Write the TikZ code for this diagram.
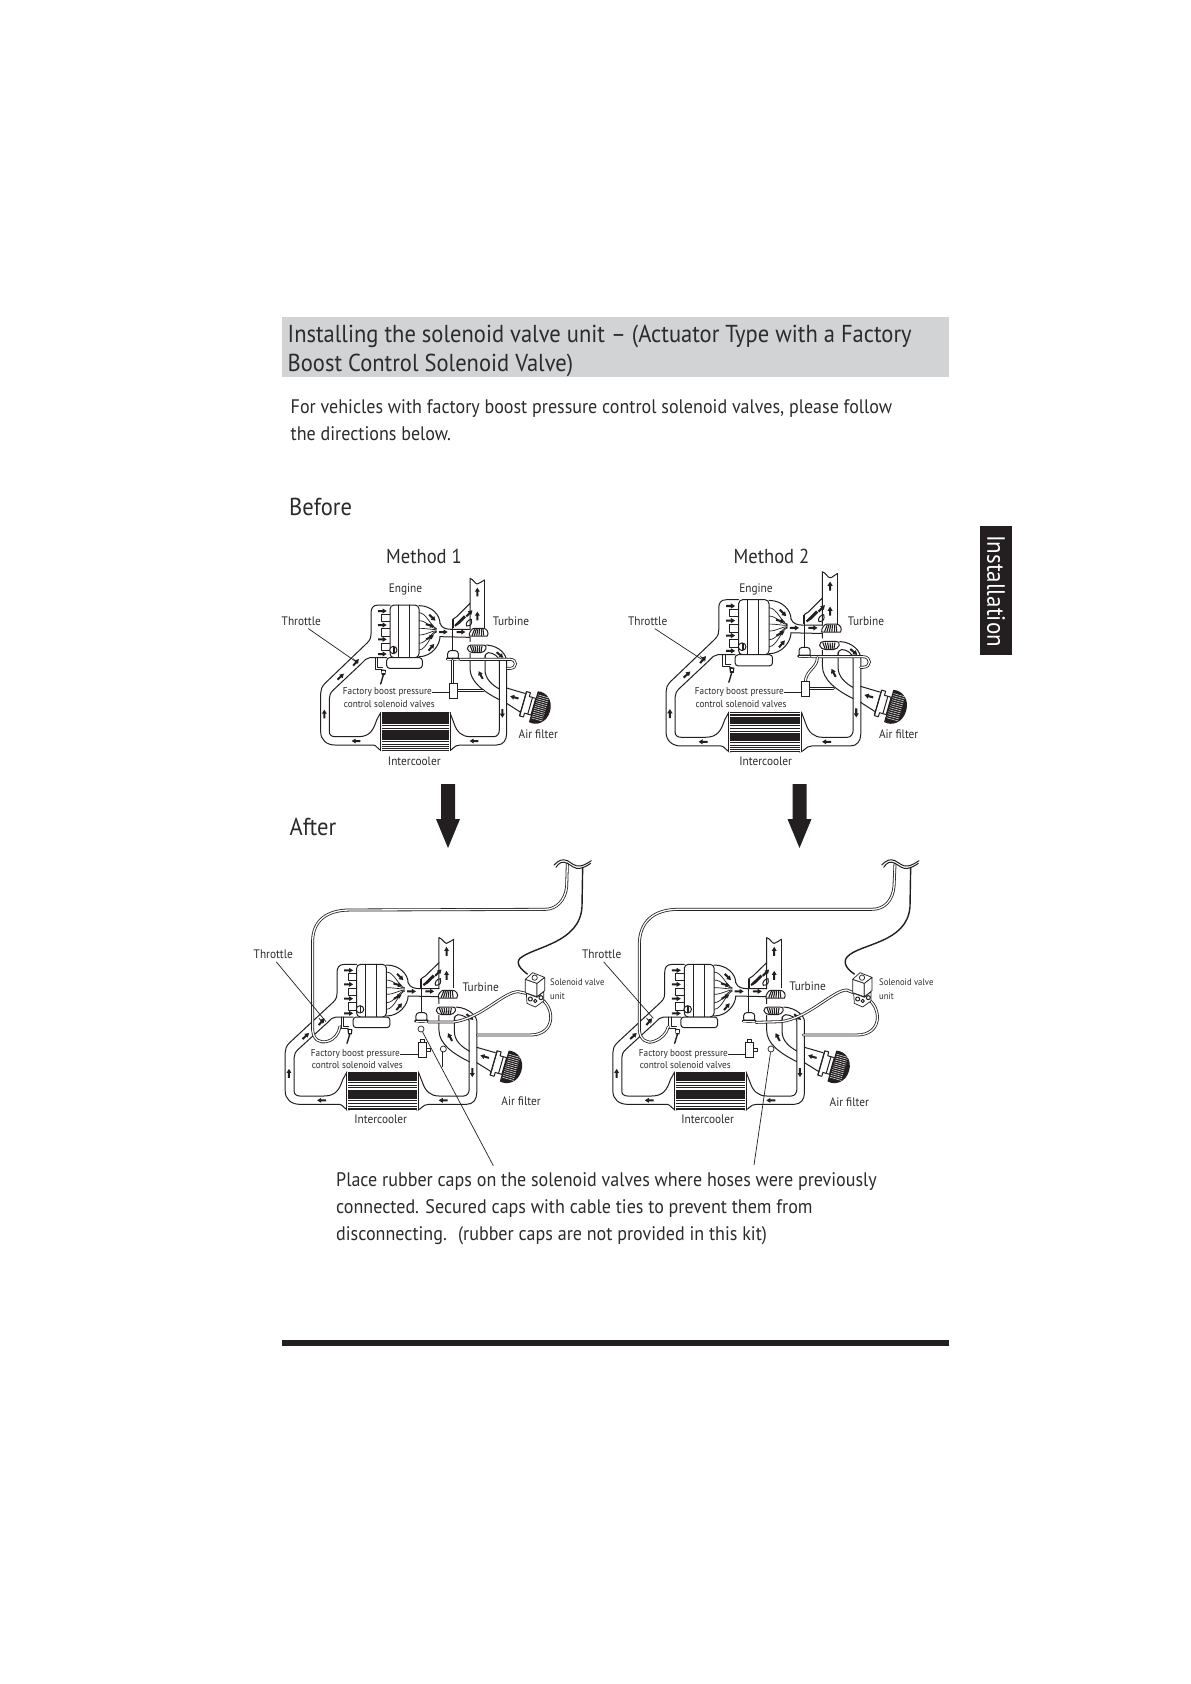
\documentclass[tikz,border=0pt]{standalone}
\usepackage{fontspec}
\setmainfont[FakeStretch=0.92]{PT Sans}
\definecolor{ink}{HTML}{231F20}
\definecolor{txt}{HTML}{2B2B2B}
\definecolor{band}{HTML}{D2D3D4}
\tikzset{
  pipe/.style={draw=ink,line width=1pt,line cap=round,line join=round},
  thin line/.style={draw=ink,line width=0.7pt},
  tube/.style={draw=ink,double=white,double distance=1.3pt,line width=0.8pt,line cap=round},
  hardwire/.style={draw=ink,line width=1.4pt,line cap=round},
  lbl/.style={inner sep=0pt,text=txt,font=\fontsize{12.3}{14}\selectfont},
  small/.style={inner sep=0pt,text=txt,font=\fontsize{10}{12}\selectfont},
  tiny/.style={inner sep=0pt,text=txt,font=\fontsize{9.4}{11}\selectfont},
  bodytext/.style={inner sep=0pt,anchor=base west,text=txt,font=\fontsize{19.6}{24}\selectfont},
  heading/.style={inner sep=0pt,anchor=base west,text=txt,font=\fontsize{24.5}{29}\selectfont},
  methodtext/.style={inner sep=0pt,text=txt,font=\fontsize{20.2}{24}\selectfont},
  capring/.style={circle,draw=ink,line width=0.7pt,fill=white,minimum size=6pt,inner sep=0pt},
  svbox/.style={draw=ink,line width=1pt,fill=white,minimum width=8pt,minimum height=15pt,inner sep=0pt},
  zf/.style 2 args={shift={(#1pt,-#2pt)},x=0.33333pt,y=-0.33333pt},
  base/.style n args={4}{shift={(#1pt,-#2pt)},x=#3*0.33333pt,y=-#4*0.33333pt},
}
\newcommand{\flow}[3]{\fill[ink,shift={(#1,#2)},rotate=#3] (-13,-3)--(1,-3)--(1,-7.5)--(13,0)--(1,7.5)--(1,3)--(-13,3)--cycle;}
% base diagram, local coordinates; #1 = vertical offset of the turbine group
\newcommand{\basediag}[1]{%
  % compressor pipe
  \draw[pipe] (600,280+#1) -- (600,325+#1) .. controls (600,365+#1) and (640,395+#1) .. (690,420+#1);
  \draw[pipe] (645,285+#1) -- (645,330+#1) .. controls (645,355+#1) and (665,375+#1) .. (690,388+#1);
  \draw[pipe] (710,430) -- (752,457);
  \draw[pipe] (710,384) -- (764,400);
  \flow{632}{345+#1}{118}
  \flow{733}{412}{164}
  % right duct
  \fill[white] (689,300) rectangle (709,520);
  \draw[pipe] (534,572) .. controls (550,572) and (550,555) .. (570,555) -- (680,555) .. controls (700,555) and (710,540) .. (710,520) -- (710,305) .. controls (710,285+#1) and (690,258+#1) .. (650,255+#1);
  \draw[pipe] (540,458) -- (552,490) .. controls (560,515) and (575,530) .. (600,530) -- (672,530) .. controls (682,530) and (688,520) .. (688,510) -- (688,305) .. controls (688,290+#1) and (670,278+#1) .. (655,278+#1) .. controls (648,278+#1) and (645,285+#1) .. (645,295+#1);
  \flow{697}{460}{-90}
  \flow{612}{543}{180}
  \flow{690}{285+#1}{-40}
  % left duct
  \draw[pipe] (360,135) -- (325,135) .. controls (308,135) and (303,145) .. (303,160) -- (303,222) .. controls (303,240) and (295,245) .. (285,255) -- (165,370) .. controls (155,380) and (152,390) .. (152,400) -- (152,515) .. controls (152,540) and (170,555) .. (195,555) -- (310,555) .. controls (320,555) and (325,572) .. (338,572);
  \draw[pipe] (350,293) -- (300,293) .. controls (290,293) and (285,300) .. (275,310) -- (190,390) .. controls (182,398) and (178,405) .. (178,415) -- (178,515) .. controls (178,525) and (185,530) .. (195,530) -- (265,530) .. controls (300,530) and (310,510) .. (320,480) -- (332,458);
  \flow{163}{462}{90}
  \flow{258}{543}{180}
  \flow{212}{350}{43}
  \draw[thin line] (250,296) -- (262,312);
  \flow{258}{307}{50}
  % sensor under throttle
  \draw[pipe] (315,293) -- (315,328) -- (335,328);
  \draw[pipe] (322,293) -- (322,322) -- (337,322);
  \fill[ink] (333,328) -- (348,330) -- (346,345) -- (335,345) -- cycle;
  \fill[white] (337,333) rectangle (344,340);
  \draw[hardwire] (340,345) -- (332,372);
  % intercooler
  \fill[white] (332,458) rectangle (540,572);
  \foreach \yy/\ww in {459/1.4,466/2.4,474/2.4,482/2.4,489/1.6,497/0.7,505/0.7,513/1.6,520/2.4,528/2.4,536/2.4,544/1.2,552/0.7,560/0.7,566/0.7,571.5/1.3}
    \draw[ink,line width=\ww pt] (335,\yy) -- (537,\yy);
  \draw[pipe] (332,458) -- (332,572);
  \draw[pipe] (540,458) -- (540,572);
  % intake manifold
  \draw[pipe] (360,162) -- (335,162) -- (335,183) -- (360,183);
  \draw[pipe] (360,206) -- (335,206) -- (335,228) -- (360,228);
  \draw[pipe] (360,250) -- (335,250) -- (335,272) -- (360,272);
  \flow{337}{153}{0}
  \flow{337}{195}{0}
  \flow{337}{238}{0}
  \flow{337}{282}{0}
  % engine
  \draw[pipe,fill=white,rounded corners=4pt] (360,135) rectangle (447,293);
  \draw[pipe] (386,135) -- (386,293);
  \draw[pipe] (418,135) -- (418,293);
  \draw[pipe,fill=white,rounded corners=3pt] (350,293) rectangle (457,325);
  \draw[pipe,fill=white] (370,270) circle (11);
  \fill[ink] (369,260) rectangle (374,280);
  % exhaust manifold
  \draw[pipe] (447,137) .. controls (485,137) and (510,165) .. (510,190);
  \draw[pipe] (447,290) .. controls (485,290) and (510,255) .. (510,230);
  \foreach \yy/\yb in {158/205,182/207,205/209,225/212,250/214,270/216}
    \draw[thin line] (447,\yy) .. controls (470,\yy) and (485,\yb) .. (500,\yb);
  \flow{487}{173}{-45}
  \flow{480}{196}{-15}
  \flow{480}{232}{28}
  \flow{484}{262}{50}
  % pipe to turbine
  \draw[pipe] (510,190) .. controls (515,205) and (530,208) .. (545,208) -- (600,208);
  \draw[pipe] (510,230) -- (600,232) -- (600,245+#1);
  \flow{520}{216}{0}
  \flow{573}{216}{0}
  % stack
  \draw[pipe] (600,208) -- (600,130) -- (560,170) -- (548,178);
  \draw[pipe] (643,205) -- (643,60);
  \draw[pipe] (600,130) -- (600,55) .. controls (610,57) and (615,72) .. (622,72) .. controls (630,72) and (635,62) .. (643,60);
  \draw[pipe] (590,198) .. controls (585,190) and (595,178) .. (604,178) .. controls (606,190) and (605,198) .. (590,198) -- cycle;
  \flow{622}{96}{90}
  \flow{622}{168}{90}
  \flow{598}{160}{45}
  \fill[ink] (553,195) -- (582,166) -- (588,172) -- (568,192) -- (556,200) -- cycle;
  % turbine / compressor wheels
  \draw[pipe,fill=white] (598,228+#1) .. controls (596,218+#1) and (606,205+#1) .. (612,205+#1) -- (640,205+#1) .. controls (650,205+#1) and (658,218+#1) .. (652,228+#1) -- cycle;
  \foreach \xa/\xb in {606/614,613/619,620/624,627/629,634/634,641/639}
    \draw[ink,line width=1.1pt] (\xa,227+#1) -- (\xb,207+#1);
  \draw[pipe,fill=white] (592,266+#1) .. controls (592,258+#1) and (598,255+#1) .. (604,255+#1) -- (640,255+#1) .. controls (646,255+#1) and (650,258+#1) .. (648,266+#1) .. controls (645,272+#1) and (640,278+#1) .. (632,278+#1) -- (608,278+#1) .. controls (600,278+#1) and (594,272+#1) .. (592,266+#1) -- cycle;
  \foreach \xa/\xb in {601/608,608/613,615/618,622/623,629/628,636/633}
    \draw[ink,line width=1.1pt] (\xa,258+#1) -- (\xb,276+#1);
  % actuator
  \draw[ink,line width=1.8pt] (548,178) -- (548,205);
  \draw[pipe] (548,205) -- (548,272+#1);
  \draw[pipe,fill=white,rounded corners=3pt] (533,272+#1) rectangle (565,300+#1);
  \fill[ink,rounded corners=1pt] (528,293+#1) rectangle (570,301+#1);
  \draw[white,line width=0.5pt] (532,297+#1) -- (566,297+#1);
  % air filter
  \begin{scope}[shift={(790,440)},rotate=-16]
    \draw[pipe,fill=white] (-32,-38) -- (-20,-38) -- (-20,-26) -- (0,-26) -- (0,26) -- (-20,26) -- (-20,38) -- (-32,38) -- cycle;
    \draw[pipe] (-10,-26) -- (-10,26);
    \draw[ink,line width=1.1pt] (-32,-38) -- (-32,38);
    \fill[ink] (0,-48) .. controls (25,-54) and (52,-35) .. (52,0) .. controls (52,35) and (25,54) .. (0,48) -- cycle;
    \foreach \vv in {-38,-32,...,38} \draw[white,line width=0.45pt] (4,\vv) -- (38,\vv);
  \end{scope}
}
\newcommand{\valve}[2]{%
  \begin{scope}[shift={(#1,#2)}]
    \draw[thin line,fill=white,line join=round] (3,45) -- (35,57) -- (55,40) -- (55,68) -- (30,86) -- (5,75) -- cycle;
    \draw[thin line,fill=white,line join=round] (0,3) -- (35,15) -- (35,55) -- (0,43) -- cycle;
    \draw[thin line,fill=white,line join=round] (35,15) -- (58,-3) -- (58,37) -- (35,55) -- cycle;
    \draw[thin line,fill=white,line join=round] (0,3) -- (22,-17) -- (58,-3) -- (35,15) -- cycle;
    \draw[thin line] (28,-2) circle (8);
    \draw[pipe] (15,62) circle (6);
    \draw[pipe] (30,68) circle (5);
    \draw[pipe] (47,58) circle (6);
  \end{scope}
}
\newcommand{\brk}[1]{%
  \begin{scope}[shift={(#1,0)}]
    \draw[pipe] (-40,45) .. controls (-25,30) and (-15,26) .. (0,32) .. controls (12,38) and (22,50) .. (38,48) .. controls (50,46) and (60,40) .. (72,32);
    \draw[pipe] (-34,52) .. controls (-25,38) and (-15,32) .. (0,40) .. controls (12,46) and (22,58) .. (38,55) .. controls (50,53) and (60,47) .. (70,40);
  \end{scope}
}
\begin{document}
\begin{tikzpicture}[x=1pt,y=-1pt]
\useasboundingbox (0,0) rectangle (1191,1684);
\fill[white] (0,0) rectangle (1191,1684);
% heading band
\fill[band] (282,317) rectangle (949,377);
\node[heading] (title1) at (287.5,342.5) {Installing the solenoid valve unit – (Actuator Type with a Factory};
\node[heading] (title2) at (287.5,371.5) {Boost Control Solenoid Valve)};
\node[bodytext] (intro1) at (290.5,413) {For vehicles with factory boost pressure control solenoid valves, please follow};
\node[bodytext] (intro2) at (290.5,440) {the directions below.};
\node[heading] (before) at (289,515.5) {Before};
\node[heading] (after) at (289.5,835) {After};
\node[methodtext] (m1) at (424,556.5) {Method 1};
\node[methodtext] (m2) at (771.5,556.5) {Method 2};
% side tab
\fill[ink] (980,526) rectangle (1012,655);
\node[inner sep=0pt,text=white,rotate=-90,font=\fontsize{25}{28}\selectfont] (tab) at (996,591) {Installation};
% big arrows
\fill[ink] (441,784) -- (455,784) -- (455,819) -- (460,819) -- (448,848) -- (436,819) -- (441,819) -- cycle;
\fill[ink] (792.5,784) -- (806.5,784) -- (806.5,819) -- (811.5,819) -- (799.5,848) -- (787.5,819) -- (792.5,819) -- cycle;
% ---------- Method 1, before
\begin{scope}[base={270}{560}{1}{1}]\basediag{0}\end{scope}
\begin{scope}[zf={270}{560}]
  \draw[tube] (570,298) -- (720,298) .. controls (742,298) and (742,325) .. (720,325) -- (712,325);
  \draw[tube] (548,301) -- (548,370);
  \draw[tube] (562,392) -- (640,392);
  \node[svbox] (sv1) at (550,392) {};
  \coordinate (t1) at (258,305);
\end{scope}
\node[lbl] (eng1) at (405.5,589.5) {Engine};
\node[lbl] (th1) at (301.3,621) {Throttle};
\node[lbl] (tu1) at (511,621) {Turbine};
\node[small,anchor=east] (fa1) at (432,692.5) {Factory boost pressure};
\node[small] (co1) at (389.3,703.8) {control solenoid valves};
\node[lbl] (af1) at (538.3,734) {Air filter};
\node[lbl] (ic1) at (414.3,761) {Intercooler};
\draw[thin line] (fa1.east) -- (sv1.west |- fa1.east);
\draw[thin line] (th1.south) ++(7,3) -- (t1);
% ---------- Method 2, before
\begin{scope}[base={613}{552.67}{1.047}{1.045}]\basediag{0}\end{scope}
\begin{scope}[zf={620}{560}]
  \draw[tube] (575,290) -- (728,290) .. controls (755,290) and (755,322) .. (728,322) -- (722,322);
  \draw[tube] (556,368) .. controls (556,330) and (592,325) .. (592,293);
  \draw[tube] (570,385) -- (640,385);
  \node[svbox] (sv2) at (557,387) {};
  \coordinate (t2) at (245,298);
\end{scope}
\node[lbl] (eng2) at (756,589.5) {Engine};
\node[lbl] (th2) at (647.7,621) {Throttle};
\node[lbl] (tu2) at (866,621) {Turbine};
\node[small,anchor=east] (fa2) at (784,692.5) {Factory boost pressure};
\node[small] (co2) at (741,703.8) {control solenoid valves};
\node[lbl] (af2) at (898.7,734) {Air filter};
\node[lbl] (ic2) at (765.7,761) {Intercooler};
\draw[thin line] (fa2.east) -- (sv2.west |- fa2.east);
\draw[thin line] (th2.south) ++(7,3) -- (t2);
% ---------- Method 1, after
\begin{scope}[base={233}{919.33}{1.03}{1}]\basediag{8}\end{scope}
\begin{scope}[zf={240}{850}]
  \draw[tube] (982,42) -- (980,110) .. controls (976,150) and (950,178) .. (915,178) -- (330,180) .. controls (260,180) and (220,212) .. (218,270) -- (218,540) .. controls (220,570) and (240,580) .. (262,574) .. controls (285,568) and (296,550) .. (300,530);
  \brk{982}
  \draw[hardwire] (1028,52) -- (1026,170) .. controls (1020,280) and (880,290) .. (840,325) .. controls (825,340) and (845,360) .. (862,372);
  \draw[tube] (565,516) -- (640,516) .. controls (725,505) and (790,425) .. (835,425) -- (858,430);
  \draw[tube] (908,450) .. controls (945,480) and (945,555) .. (870,555) -- (712,555);
  \valve{856}{385}
  \node[capring] (cap1) at (543,537) {};
  \draw[pipe,fill=white] (540,590) rectangle (552,567);
  \node[svbox] (sv3) at (547,600) {};
  \draw[pipe,fill=white] (559,596) rectangle (570,604);
  \draw[thin line] (607,600) -- (607,650);
  \node[capring] (cap1b) at (610,597) {};
  \coordinate (t3) at (258,515);
  \coordinate (lead1) at (760,947);
\end{scope}
\node[lbl] (th3) at (273.3,954.3) {Throttle};
\node[lbl] (tu3) at (480.7,987) {Turbine};
\node[tiny,anchor=west] (sa3) at (550,982) {Solenoid valve};
\node[tiny,anchor=west] (sb3) at (550,996) {unit};
\node[small,anchor=east] (fa3) at (400,1054.5) {Factory boost pressure};
\node[small] (co3) at (357.3,1064.8) {control solenoid valves};
\node[lbl] (af3) at (521,1101) {Air filter};
\node[lbl] (ic3) at (380.7,1119) {Intercooler};
\draw[thin line] (fa3.east) -- (sv3.west |- fa3.east);
\draw[thin line] (th3.south) ++(3,3) -- (t3);
\draw[thin line] (cap1) -- (lead1);
% ---------- Method 2, after
\begin{scope}[base={560.67}{919.33}{1.03}{1}]\basediag{8}\end{scope}
\begin{scope}[zf={570}{850}]
  \draw[tube] (975,42) -- (972,110) .. controls (968,150) and (945,178) .. (905,178) -- (320,178) .. controls (250,180) and (210,215) .. (208,280) -- (208,540) .. controls (210,570) and (232,582) .. (252,574) .. controls (275,566) and (290,550) .. (295,530);
  \brk{975}
  \draw[hardwire] (1022,52) -- (1020,170) .. controls (1012,280) and (870,280) .. (832,320) .. controls (815,340) and (835,360) .. (853,372);
  \draw[tube] (558,517) -- (632,515) .. controls (715,505) and (790,420) .. (830,420) -- (850,428);
  \draw[tube] (898,450) .. controls (935,480) and (935,555) .. (860,555) -- (700,555);
  \valve{848}{385}
  \draw[pipe,fill=white] (531,580) rectangle (543,567);
  \node[svbox] (sv4) at (538,600) {};
  \draw[pipe,fill=white] (551,596) rectangle (562,604);
  \node[capring] (cap2) at (603,597) {};
  \coordinate (t4) at (250,505);
  \coordinate (lead2) at (552,945);
\end{scope}
\node[lbl] (th4) at (601.7,954.3) {Throttle};
\node[lbl] (tu4) at (807.7,986) {Turbine};
\node[tiny,anchor=west] (sa4) at (879,982) {Solenoid valve};
\node[tiny,anchor=west] (sb4) at (879,996) {unit};
\node[small,anchor=east] (fa4) at (728,1054.5) {Factory boost pressure};
\node[small] (co4) at (685.3,1064.8) {control solenoid valves};
\node[lbl] (af4) at (849.3,1102) {Air filter};
\node[lbl] (ic4) at (707.7,1119) {Intercooler};
\draw[thin line] (fa4.east) -- (sv4.west |- fa4.east);
\draw[thin line] (th4.south) ++(2,3) -- (t4);
\draw[thin line] (cap2) -- (lead2);
% note
\node[bodytext] (n1) at (336,1186) {Place rubber caps on the solenoid valves where hoses were previously};
\node[bodytext] (n2) at (336,1213) {connected. Secured caps with cable ties to prevent them from};
\node[bodytext] (n3) at (336,1240) {disconnecting.~ (rubber caps are not provided in this kit)};
% bottom rule
\fill[ink] (282,1340) rectangle (949,1346);
\end{tikzpicture}
\end{document}
